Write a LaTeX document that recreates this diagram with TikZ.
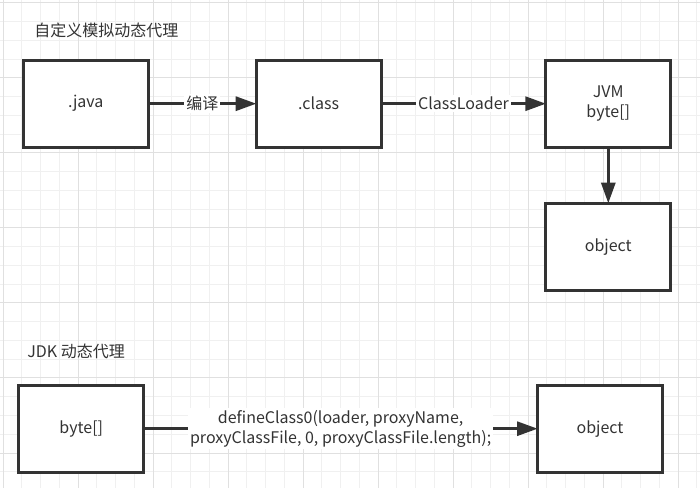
\documentclass[tikz,border=0pt]{standalone}
\usepackage{fontspec}
\setmainfont{Noto Sans CJK SC}
\usetikzlibrary{arrows.meta}
\definecolor{ink}{HTML}{333333}
\definecolor{gridminor}{HTML}{F0F0F0}
\definecolor{gridmajor}{HTML}{E0E0E0}
\begin{document}
\begin{tikzpicture}[x=0.75pt,y=-0.75pt,
  box/.style={draw=ink, line width=2.25pt, fill=white, minimum width=93.5pt, minimum height=65.25pt,
    inner sep=0pt, outer sep=0pt, font=\fontsize{12}{15}\selectfont, text=ink, align=center},
  conn/.style={draw=ink, line width=2.25pt, -{Triangle[length=15.5pt,width=10.5pt]}},
  lbl/.style={fill=white, text=ink, font=\fontsize{12}{15}\selectfont, inner sep=1.5pt, align=center},
  title/.style={anchor=west, text=ink, font=\fontsize{12}{15}\selectfont, inner sep=0pt}]
\useasboundingbox (0,0) rectangle (700,488);
\fill[white] (0,0) rectangle (700,488);
\foreach \i in {0,...,37} {\draw[gridminor, line width=0.75pt] ({3+18.75*\i},0) -- ({3+18.75*\i},488);}
\foreach \i in {0,...,25} {\draw[gridminor, line width=0.75pt] (0,{3+18.75*\i}) -- (700,{3+18.75*\i});}
\foreach \i in {0,...,9} {\draw[gridmajor, line width=0.75pt] ({3+75*\i},0) -- ({3+75*\i},488);}
\foreach \i in {0,...,6} {\draw[gridmajor, line width=0.75pt] (0,{3+75*\i}) -- (700,{3+75*\i});}

\node[title] (t1) at (34,30) {自定义模拟动态代理};
\node[title] (t2) at (27,351.5) {JDK 动态代理};

\node[box] (java) at (85.8,103.7) {.java};
\node[box] (class) at (318.7,103.7) {.class};
\node[box] (jvm) at (608.3,103.7) {JVM\\byte[]};
\node[box] (obj1) at (608.3,246.8) {object};
\node[box] (bytes) at (81.3,428.7) {byte[]};
\node[box] (obj2) at (600,428.7) {object};

\draw[conn] (java) -- node[lbl] {编译} (class);
\draw[conn] (class) -- node[lbl] {ClassLoader} (jvm);
\draw[conn] (jvm) -- (obj1);
\draw[conn] (bytes) -- node[lbl] {defineClass0(loader, proxyName,\\proxyClassFile, 0, proxyClassFile.length);} (obj2);
\end{tikzpicture}
\end{document}
